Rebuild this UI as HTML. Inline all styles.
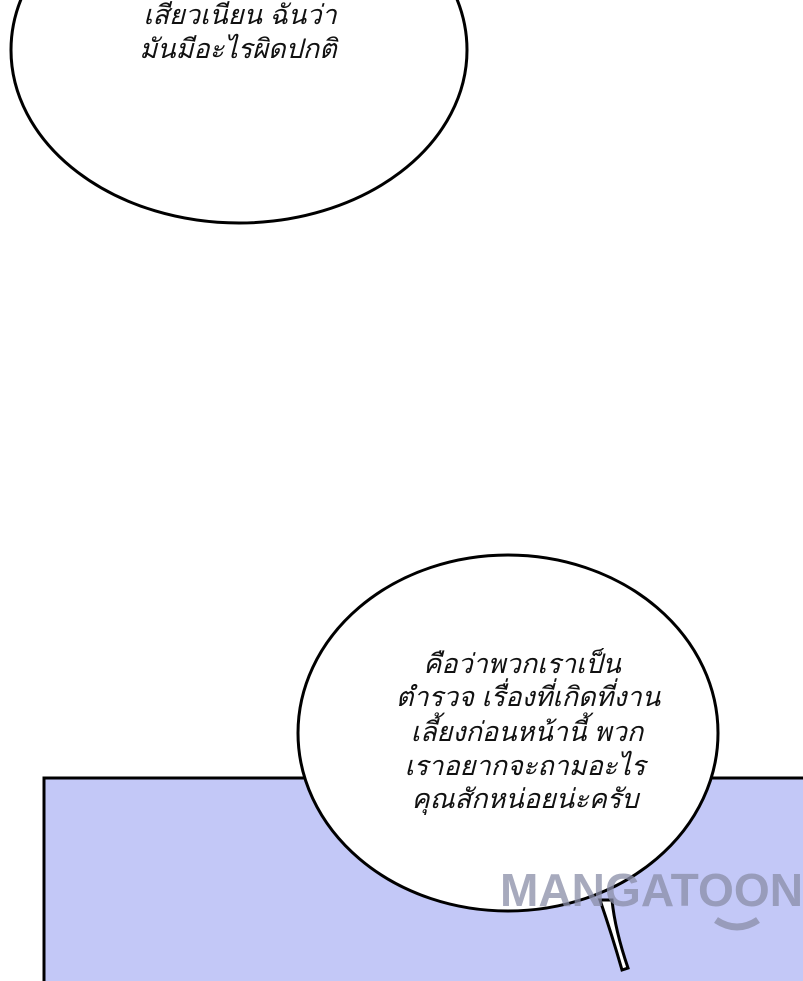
<!DOCTYPE html>
<html><head><meta charset="utf-8"><style>
html,body{margin:0;padding:0;background:#fff;width:803px;height:981px;overflow:hidden}
svg{display:block}
text{font-family:"Liberation Sans","DejaVu Sans",sans-serif;font-style:italic;font-size:27px;fill:#111}
</style></head><body>
<svg width="803" height="981" viewBox="0 0 803 981">
<rect x="44" y="778" width="780" height="220" fill="#c3c8f7" stroke="#000" stroke-width="3"/>
<ellipse cx="239" cy="50" rx="228" ry="173" fill="#fff" stroke="#000" stroke-width="3"/>
<text x="240" y="24" text-anchor="middle">เสี่ยวเนี่ยน ฉันว่า</text>
<text x="238" y="58" text-anchor="middle">มันมีอะไรผิดปกติ</text>
<path d="M600 900 Q612 935 622 970 L628 968 Q615 930 612 900 Z" fill="#fff" stroke="#000" stroke-width="3"/>
<ellipse cx="508" cy="733" rx="210" ry="178" fill="#fff" stroke="#000" stroke-width="3"/>
<text x="522" y="673" text-anchor="middle">คือว่าพวกเราเป็น</text>
<text x="528" y="706" text-anchor="middle">ตำรวจ เรื่องที่เกิดที่งาน</text>
<text x="527" y="741" text-anchor="middle">เลี้ยงก่อนหน้านี้ พวก</text>
<text x="525" y="775" text-anchor="middle">เราอยากจะถามอะไร</text>
<text x="525" y="808" text-anchor="middle">คุณสักหน่อยน่ะครับ</text>
<g opacity=".75">
<text x="500" y="906" textLength="303" lengthAdjust="spacingAndGlyphs" style="font-style:normal;font-weight:bold;font-size:46px;fill:#8a8ea8">MANGATOON</text>
<path d="M716 920 Q737 934 758 920" stroke="#8a8ea8" stroke-width="7" fill="none"/>
</g>
</svg>
</body></html>
